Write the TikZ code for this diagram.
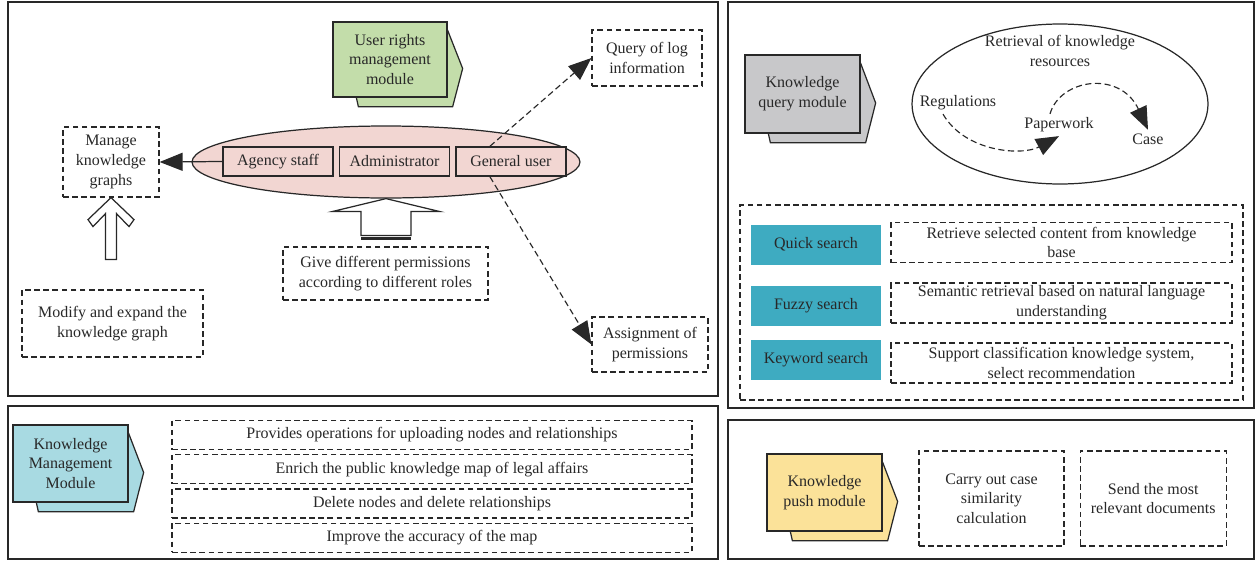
\documentclass[tikz,border=0pt]{standalone}
\usepackage{fontspec}
\setmainfont{Liberation Serif}
\usetikzlibrary{calc, positioning, arrows.meta, shapes.geometric, backgrounds}
\definecolor{ink}{RGB}{40,40,40}
\definecolor{rightsgreen}{RGB}{195,221,170}
\definecolor{rolepink}{RGB}{242,214,210}
\definecolor{querygray}{RGB}{200,200,202}
\definecolor{managecyan}{RGB}{168,218,226}
\definecolor{pushyellow}{RGB}{251,226,153}
\definecolor{searchteal}{RGB}{62,171,193}
\newcommand{\modtab}[2]{%
  \draw[draw=ink, line width=0.7pt, fill=#2]
    ($(#1.north east)+(0,9)$) -- ($(#1.east)+(15,9)$) -- ($(#1.south east)+(5,9)$)
    -- ($(#1.south west)+(26,9)$) -- ($(#1.south west)+(24,0)$) -- ($(#1.north west)+(24,9)$) -- cycle;}

\begin{document}
\begin{tikzpicture}[x=0.02cm, y=-0.02cm, font=\fontsize{9.1}{11.2}\selectfont, text=ink,
    panel/.style={draw=ink, line width=0.7pt},
    dbox/.style={draw=ink, dash pattern=on 3.2pt off 2pt, line width=0.7pt, align=center, inner sep=1pt},
    dline/.style={draw=ink, dash pattern=on 3.5pt off 2pt, line width=0.65pt},
    role/.style={draw=ink, fill=rolepink, line width=0.8pt, minimum width=2.2cm, minimum height=0.58cm, inner sep=1pt},
    module/.style={draw=ink, line width=0.75pt, minimum width=2.3cm, minimum height=1.54cm, align=center, inner sep=1pt},
    search/.style={fill=searchteal, minimum width=2.6cm, minimum height=0.8cm, inner sep=1pt},
    note/.style={dbox, minimum width=6.82cm, minimum height=0.8cm},
    strip/.style={dbox, minimum width=10.4cm, minimum height=0.58cm},
    tip/.style={-{Triangle[length=0.46cm, width=0.36cm]}},
    word/.style={inner sep=2pt, align=center}]
  \useasboundingbox (0,0) rectangle (1256,561);
  \draw[panel] (8,2) rectangle (718,396);
  \draw[panel] (8,406) rectangle (718,559);
  \draw[panel] (728,2) rectangle (1254,408);
  \draw[panel] (728,420) rectangle (1254,559);

  \node[module, fill=rightsgreen, minimum width=2.28cm, minimum height=1.5cm] (rights) at (390,59.5) {User rights\\management\\module};
  \node[ellipse, draw=ink, line width=0.7pt, fill=rolepink, minimum width=7.76cm, minimum height=1.44cm] (roles) at (386,162) {};
  \node[role] (admin) at (394.5,161.5) {Administrator};
  \node[role, left=0.1cm of admin] (agency) {Agency staff};
  \node[role, right=0.1cm of admin] (general) {General user};
  \node[dbox, minimum width=1.92cm, minimum height=1.4cm] (graphs) at (111,162) {Manage\\knowledge\\graphs};
  \node[dbox, minimum width=3.62cm, minimum height=1.34cm] (modify) at (112.5,323.5) {Modify and expand the\\knowledge graph};
  \node[dbox, minimum width=4.1cm, minimum height=1.06cm] (perm) at (385.5,273.5) {Give different permissions\\according to different roles};
  \node[dbox, minimum width=2.2cm, minimum height=1.12cm] (logq) at (647,58) {Query of log\\information};
  \node[dbox, minimum width=2.32cm, minimum height=1.1cm] (assign) at (650,344.5) {Assignment of\\permissions};

  \draw[ink, line width=0.7pt, tip] (agency.west) -- (graphs.east);
  \draw[dline, tip] ([xshift=-0.42cm]general.north) -- (logq.west);
  \draw[dline, tip] ([xshift=-0.42cm]general.south) -- (assign.west);
  \draw[ink, line width=0.7pt, fill=white] (graphs.south) -- ++(-23,22) -- ++(5,7) -- ++(12.5,-13) -- ++(0,46)
    -- ++(11,0) -- ++(0,-46) -- ++(12.5,13) -- ++(5,-7) -- cycle;
  \draw[ink, line width=0.7pt, fill=white] (roles.south) -- ++(-54,13) -- ++(29,0) -- ++(0,24) -- ++(50,0)
    -- ++(0,-24) -- ++(29,0) -- cycle;
  \draw[ink, line width=1.8pt] ($(roles.south)+(-25,40)$) -- ++(50,0);

  \node[module, fill=querygray, minimum height=1.56cm] (query) at (802.5,94) {Knowledge\\query module};
  \node[ellipse, draw=ink, line width=0.7pt, minimum width=5.92cm, minimum height=3.2cm] (store) at (1060,104) {};
  \node[word] (retr) at (1060,51) {Retrieval of knowledge\\resources};
  \node[word] (reg) at (958,103) {Regulations};
  \node[word] (paper) at (1059,125) {Paperwork};
  \node[word] (case) at (1148,139) {Case};
  \draw[dline, tip] ([xshift=-0.3cm]reg.south) .. controls +(22,38) and +(-37,20) .. (paper.south);
  \draw[dline, tip] ([xshift=-0.18cm]paper.north) .. controls +(10,-35) and +(-28,-60) .. (case.north);

  \node[dbox, minimum width=10.06cm, minimum height=3.9cm] (searchbox) at (991.5,302.5) {};
  \node[search] (quick) at (816,244.5) {Quick search};
  \node[search] (fuzzy) at (816,306) {Fuzzy search};
  \node[search] (keyword) at (816,359.5) {Keyword search};
  \node[note] (quicknote) at (1061.5,242.5) {Retrieve selected content from knowledge\\base};
  \node[note] (fuzzynote) at (1061.5,303) {Semantic retrieval based on natural language\\understanding};
  \node[note] (keywordnote) at (1061.5,363) {Support classification knowledge system,\\select recommendation};

  \node[module, fill=managecyan] (manage) at (70.5,463.5) {Knowledge\\Management\\Module};
  \node[strip] (upload) at (432,435) {Provides operations for uploading nodes and relationships};
  \node[strip, below=0.08cm of upload] (enrich) {Enrich the public knowledge map of legal affairs};
  \node[strip, below=0.08cm of enrich] (delete) {Delete nodes and delete relationships};
  \node[strip, below=0.08cm of delete] (accuracy) {Improve the accuracy of the map};

  \node[module, fill=pushyellow] (push) at (824.5,492.5) {Knowledge\\push module};
  \node[dbox, minimum width=2.9cm, minimum height=1.9cm] (similar) at (991.5,498.5) {Carry out case\\similarity\\calculation};
  \node[dbox, minimum width=2.92cm, minimum height=1.9cm, right=0.3cm of similar] (send) {Send the most\\relevant documents};

  \begin{pgfonlayer}{background}
    \modtab{rights}{rightsgreen}
    \modtab{query}{querygray}
    \modtab{manage}{managecyan}
    \modtab{push}{pushyellow}
  \end{pgfonlayer}
\end{tikzpicture}
\end{document}
